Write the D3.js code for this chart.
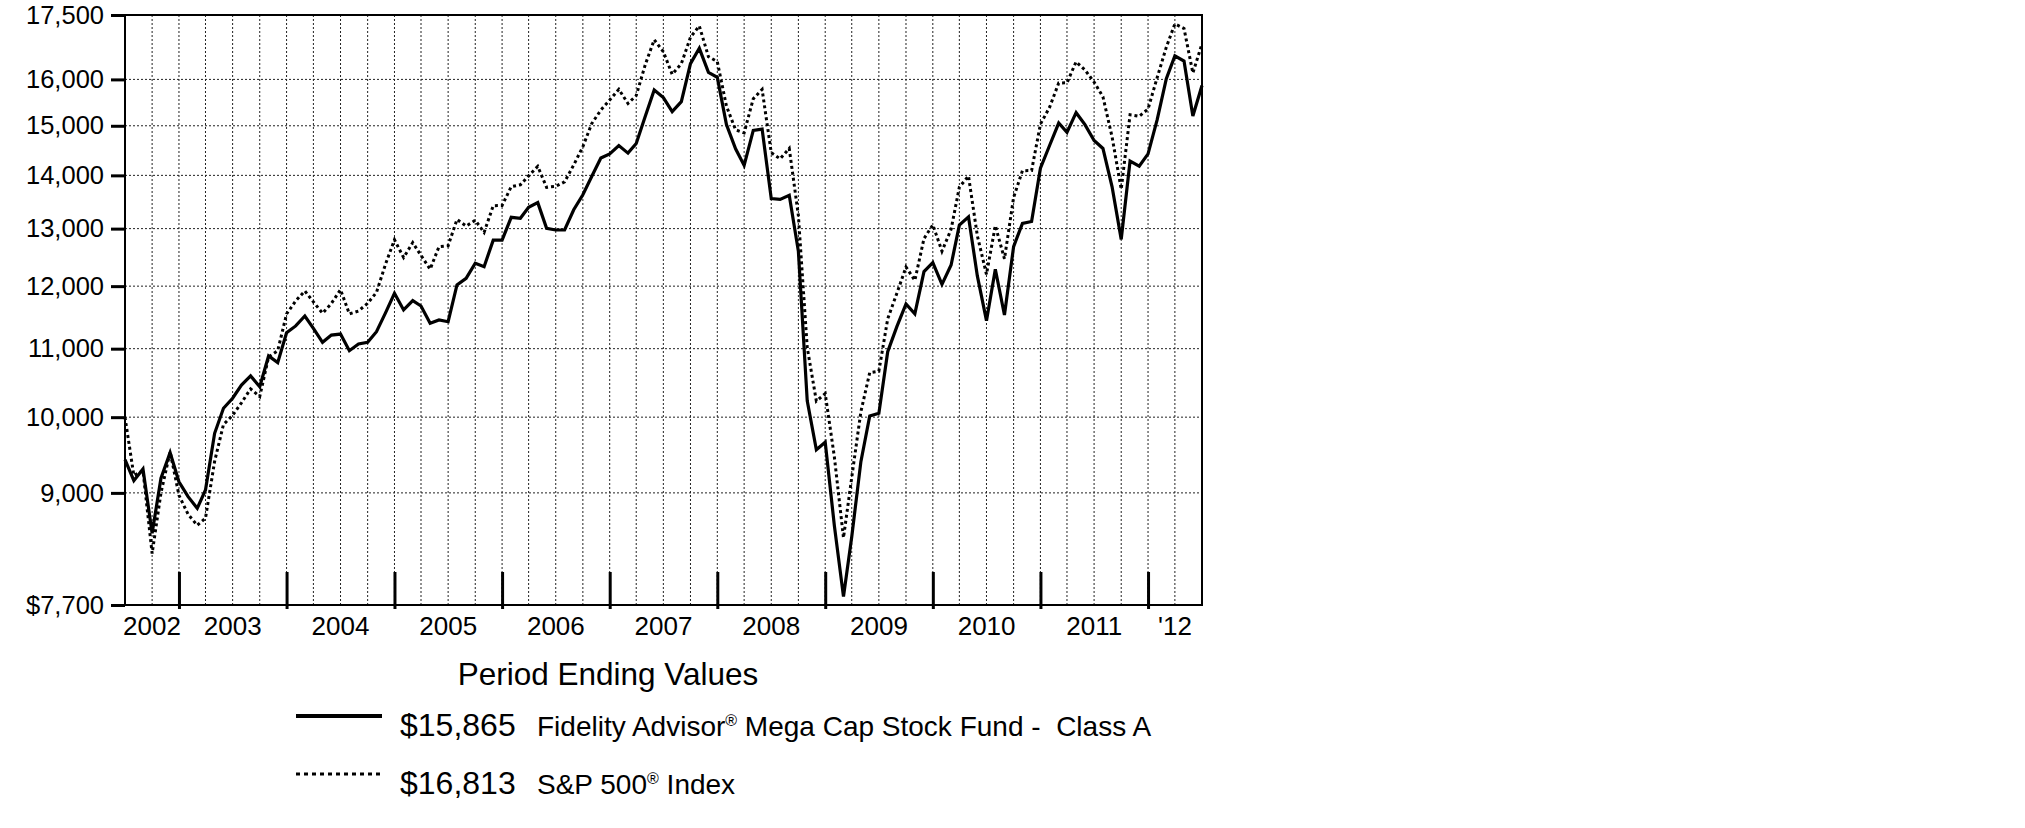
<!DOCTYPE html>
<html>
<head>
<meta charset="utf-8">
<script src="https://cdn.jsdelivr.net/npm/d3@7/dist/d3.min.js"></script>
<style>
  html, body { margin: 0; padding: 0; background: #fff; }
  svg { display: block; font-family: "Liberation Sans", Arial, sans-serif; }
  .legend text { white-space: pre; }
</style>
</head>
<body>
<svg width="2025" height="828"></svg>
<script>
// monthly period-ending values, Jun 2002 .. Jun 2012
const fundValues = [
  9425, 9154, 9305, 8508, 9185, 9518, 9141,
  8953, 8809, 9037, 9778, 10125, 10267, 10457, 10590, 10433, 10889, 10788, 11247,
  11354, 11512, 11316, 11098, 11210, 11226, 10969, 11073, 11098, 11263, 11566, 11881,
  11609, 11760, 11673, 11396, 11448, 11420, 12020, 12132, 12388, 12330, 12793, 12793,
  13206, 13188, 13393, 13479, 13005, 12975, 12975, 13346, 13627, 13979, 14343, 14425,
  14594, 14440, 14636, 15204, 15764, 15600, 15300, 15512, 16353, 16707, 16158, 16045,
  15024, 14526, 14196, 14904, 14930, 13554, 13540, 13617, 12595, 10231, 9557, 9658,
  8600, 7790, 8468, 9400, 10016, 10053, 10954, 11342, 11706, 11545, 12245, 12398,
  12030, 12359, 13063, 13215, 12172, 11437, 12285, 11528, 12679, 13094, 13130, 14141,
  14594, 15057, 14864, 15276, 15024, 14697, 14534, 13778, 12807, 14280, 14182, 14425,
  15127, 16015, 16533, 16413, 15204, 15865
];
const indexValues = [
  10000, 9220, 9281, 8272, 9000, 9530, 8970,
  8735, 8604, 8688, 9404, 9899, 10026, 10202, 10401, 10291, 10873, 10969, 11544,
  11756, 11920, 11740, 11556, 11714, 11941, 11546, 11592, 11717, 11896, 12378, 12799,
  12487, 12749, 12524, 12286, 12677, 12694, 13166, 13046, 13152, 12932, 13421, 13425,
  13781, 13818, 13990, 14177, 13769, 13788, 13874, 14204, 14570, 15045, 15331, 15546,
  15781, 15472, 15645, 16338, 16908, 16628, 16112, 16354, 16966, 17235, 16515, 16401,
  15417, 14916, 14852, 15575, 15778, 14448, 14327, 14535, 13240, 11017, 10226, 10334,
  9463, 8455, 9196, 10076, 10639, 10661, 11467, 11881, 12324, 12095, 12821, 13068,
  12598, 12988, 13772, 13989, 12871, 12198, 13053, 12464, 13576, 14092, 14093, 15035,
  15391, 15919, 15925, 16397, 16212, 15941, 15618, 14770, 13732, 15233, 15199, 15354,
  16042, 16735, 17285, 17176, 16144, 16813
];
const yTicks = [7700, 9000, 10000, 11000, 12000, 13000, 14000, 15000, 16000, 17500];
const yearLabels = ["2002", "2003", "2004", "2005", "2006", "2007", "2008", "2009", "2010", "2011", "'12"];
const legendTitle = "Period Ending Values";
const legendValues = ["$15,865", "$16,813"];
const legendNames = [["Fidelity Advisor", "Mega Cap Stock Fund -  Class A"], ["S&P 500", "Index"]];

const svg = d3.select("svg");
const margin = { left: 125, top: 15 };
const inner = { width: 1077, height: 590 };

const startDate = new Date(2002, 5, 1);
const dates = fundValues.map((d, i) => d3.timeMonth.offset(startDate, i));

const x = d3.scaleTime()
  .domain([dates[0], dates[dates.length - 1]])
  .range([0, inner.width]);
const y = d3.scaleLog()
  .domain([yTicks[0], yTicks[yTicks.length - 1]])
  .range([inner.height, 0]);

const g = svg.append("g").attr("transform", `translate(${margin.left},${margin.top})`);

// grid
const quarters = dates.filter((d, i) => i > 0 && i < dates.length - 1 && i % 3 === 0);
g.append("g").selectAll("line").data(quarters).join("line")
  .attr("x1", d => x(d)).attr("x2", d => x(d))
  .attr("y1", 0).attr("y2", inner.height)
  .attr("stroke", "#222").attr("stroke-width", 1).attr("stroke-dasharray", "2,2");
g.append("g").selectAll("line").data(yTicks.slice(1, -1)).join("line")
  .attr("x1", 0).attr("x2", inner.width)
  .attr("y1", d => y(d)).attr("y2", d => y(d))
  .attr("stroke", "#222").attr("stroke-width", 1).attr("stroke-dasharray", "2,2");

// frame
g.append("rect").attr("width", inner.width).attr("height", inner.height)
  .attr("fill", "none").attr("stroke", "#000").attr("stroke-width", 2);

// y axis
const yAxis = d3.axisLeft(y).tickValues(yTicks).tickSizeInner(14).tickSizeOuter(0).tickPadding(7)
  .tickFormat(d => (d === yTicks[0] ? "$" : "") + d3.format(",")(d));
const yAxisG = g.append("g").call(yAxis);
yAxisG.select(".domain").remove();
yAxisG.selectAll(".tick line").attr("stroke-width", 3);
yAxisG.selectAll(".tick text").attr("font-size", 25.5).attr("fill", "#000")
  .attr("font-family", "Liberation Sans, Arial, sans-serif");

// x axis: year-end ticks
const yearEnds = dates.filter(d => d.getMonth() === 11);
const xAxis = d3.axisBottom(x).tickValues(yearEnds).tickSize(37).tickFormat("");
const xAxisG = g.append("g").attr("transform", `translate(0,${inner.height - 33})`).call(xAxis);
xAxisG.select(".domain").remove();
xAxisG.selectAll(".tick line").attr("stroke-width", 3);

// year labels centred in each year span
const bounds = [dates[0], ...yearEnds, dates[dates.length - 1]];
g.append("g").selectAll("text").data(yearLabels).join("text")
  .attr("x", (d, i) => (x(bounds[i]) + x(bounds[i + 1])) / 2)
  .attr("y", inner.height + 30)
  .attr("text-anchor", "middle").attr("font-size", 26)
  .text(d => d);

// series
const line = d3.line().x((d, i) => x(dates[i])).y(d => y(d));
g.append("path").datum(indexValues).attr("d", line)
  .attr("fill", "none").attr("stroke", "#000").attr("stroke-width", 3)
  .attr("stroke-dasharray", "3,3");
g.append("path").datum(fundValues).attr("d", line)
  .attr("fill", "none").attr("stroke", "#000").attr("stroke-width", 3.2)
  .attr("stroke-linejoin", "miter");

// legend
const legend = svg.append("g").attr("class", "legend");
legend.append("text").attr("x", 608).attr("y", 685).attr("text-anchor", "middle")
  .attr("font-size", 31.5).text(legendTitle);
const rows = [{ dash: null, y: 716 }, { dash: "4,4", y: 774 }];
rows.forEach((r, i) => {
  legend.append("line").attr("x1", 296).attr("x2", 382).attr("y1", r.y).attr("y2", r.y)
    .attr("stroke", "#000").attr("stroke-width", r.dash ? 3 : 4)
    .attr("stroke-dasharray", r.dash);
  legend.append("text").attr("x", 400).attr("y", r.y + 20).attr("font-size", 32)
    .text(legendValues[i]);
  const t = legend.append("text").attr("x", 537).attr("y", r.y + 20).attr("font-size", 28);
  t.append("tspan").text(legendNames[i][0]);
  t.append("tspan").attr("font-size", 16).attr("dy", -10).text("®");
  t.append("tspan").attr("dy", 10).text(" " + legendNames[i][1]);
});
</script>
</body>
</html>
